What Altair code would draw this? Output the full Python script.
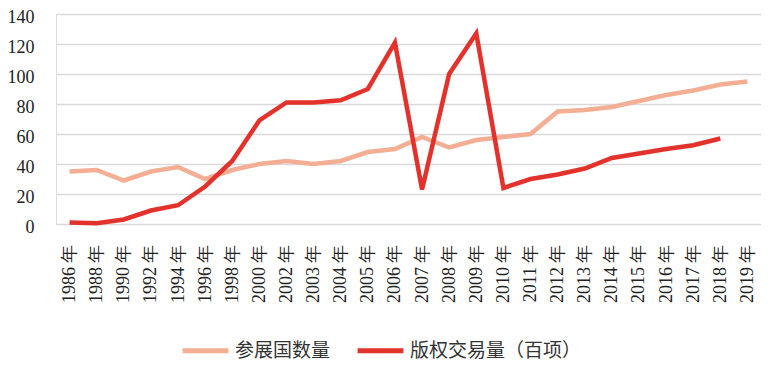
import altair as alt
import pandas as pd

years = ["1986 年", "1988 年", "1990 年", "1992 年", "1994 年", "1996 年", "1998 年", "2000 年",
         "2002 年", "2003 年", "2004 年", "2005 年", "2006 年", "2007 年", "2008 年", "2009 年",
         "2010 年", "2011 年", "2012 年", "2013 年", "2014 年", "2015 年", "2016 年", "2017 年",
         "2018 年", "2019 年"]
countries = [35, 36, 29, 35, 38, 30, 36, 40, 42, 40, 42, 48, 50, 58, 51, 56,
             58, 60, 75, 76, 78, 82, 86, 89, 93, 95]
trade = [1, 0.5, 3, 9, 12.5, 25, 42, 69, 81, 81, 82.5, 90, 121, 23, 100, 127,
         24, 30, 33, 37, 44, 47, 50, 52.5, 57, None]
series_names = ["参展国数量", "版权交易量（百项）"]
colors = ["#F4AE93", "#E3322B"]

rows = []
for i, y in enumerate(years):
    rows.append({"year": y, "series": series_names[0], "value": countries[i], "order": 0})
    if trade[i] is not None:
        rows.append({"year": y, "series": series_names[1], "value": trade[i], "order": 1})
df = pd.DataFrame(rows)

chart = alt.Chart(df).mark_line(strokeWidth=4.5, strokeJoin="miter", strokeCap="butt").encode(
    x=alt.X("year:N", sort=years, title=None,
            scale=alt.Scale(type="point", padding=0.5),
            axis=alt.Axis(labelAngle=-90, labelFont="Liberation Serif", labelFontSize=18,
                          labelColor="#222222", ticks=False, domain=False, grid=False,
                          labelPadding=20)),
    y=alt.Y("value:Q", title=None,
            scale=alt.Scale(domain=[0, 140], nice=False),
            axis=alt.Axis(values=[0, 20, 40, 60, 80, 100, 120, 140], labelFont="Liberation Serif",
                          labelFontSize=18, labelColor="#222222", ticks=False, domain=False,
                          gridColor="#D9D9D9", gridWidth=1.5, labelPadding=22, labelOffset=3)),
    color=alt.Color("series:N", sort=series_names,
                    scale=alt.Scale(domain=series_names, range=colors),
                    legend=alt.Legend(title=None, orient="none", legendX=124, legendY=311,
                                      direction="horizontal", symbolType="stroke",
                                      symbolSize=2100, symbolStrokeWidth=5,
                                      labelFont="Noto Sans CJK SC", labelFontSize=19,
                                      labelColor="#333333", columnPadding=16, labelLimit=400,
                                      symbolOffset=0, labelOffset=4)),
    order="order:Q",
    detail="series:N",
).properties(
    width=705, height=210,
    autosize=alt.AutoSizeParams(type="none"),
    padding={"left": 48, "top": 6, "right": 0, "bottom": 151},
).configure_view(stroke=None).configure(background="white")

chart.save("out.html", embed_options={"renderer": "svg", "actions": False})
